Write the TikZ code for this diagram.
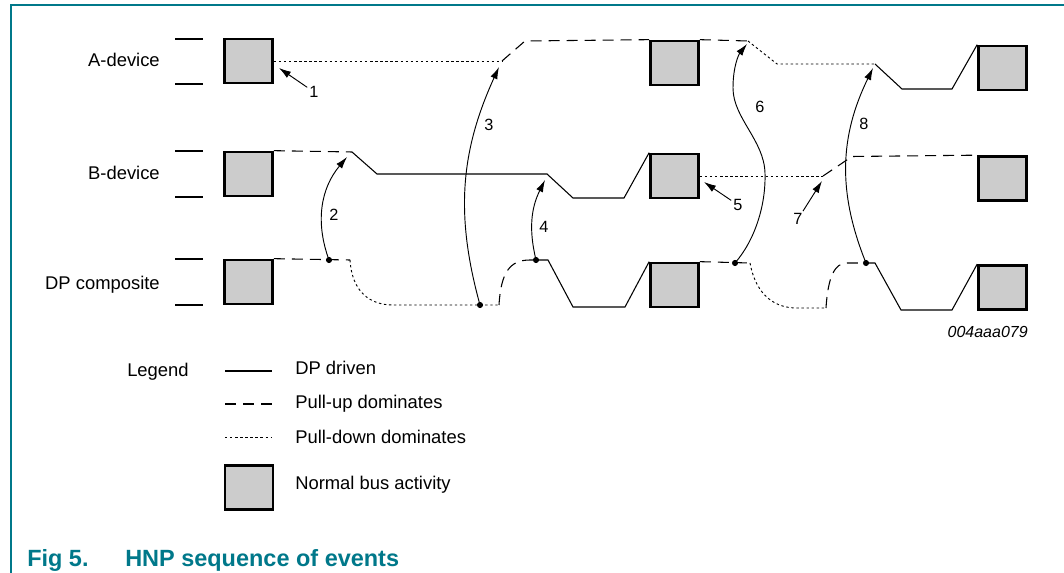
\documentclass[tikz,border=0pt]{standalone}
\usepackage{fontspec}
\setmainfont{Liberation Sans}
\usetikzlibrary{arrows.meta}
\definecolor{capteal}{RGB}{0,120,138}
\tikzset{
  bus/.style={draw,line width=2pt,fill=black!20,minimum width=36pt,minimum height=33pt,inner sep=0pt},
  drv/.style={line width=0.8pt},
  pup/.style={line width=0.8pt,dash pattern=on 8.25pt off 5.25pt},
  pdn/.style={line width=0.7pt,dash pattern=on 1.8pt off 2pt},
  evt/.style={line width=0.7pt,-{Latex[length=9pt,width=5.5pt]}},
  num/.style={font=\fontsize{12.2}{14}\selectfont,inner sep=1.5pt},
  lbl/.style={font=\fontsize{13.8}{16}\selectfont,inner sep=0pt},
}
\begin{document}
\begin{tikzpicture}[x=0.75pt,y=-0.75pt]
\useasboundingbox (0,0) rectangle (1064,573);
\draw[capteal,line width=1.1pt] (11,573) -- (11,5) -- (1064,5);

\node[lbl,anchor=base east] (na) at (160,66.5) {A-device};
\node[lbl,anchor=base east] (nb) at (160,179.5) {B-device};
\node[lbl,anchor=base east] (nd) at (160,289.5) {DP composite};
\draw[drv] (175,39) -- (203,39);
\draw[drv] (175,84) -- (203,84);
\draw[drv] (175,151) -- (203,151);
\draw[drv] (175,197) -- (203,197);
\draw[drv] (175,259) -- (203,259);
\draw[drv] (175,305) -- (203,305);

\node[bus] (a1) at (248.5,61) {};
\node[bus] (b1) at (248.5,174) {};
\node[bus] (d1) at (248.5,282) {};
\node[bus] (a2) at (674.5,63) {};
\node[bus] (b2) at (674.5,176) {};
\node[bus] (d2) at (674.5,285) {};
\node[bus] (a3) at (1002.5,68) {};
\node[bus] (b3) at (1002.5,178.5) {};
\node[bus] (d3) at (1002.5,287.5) {};

% A-device
\draw[pdn] (a1.east) -- (502,61) coordinate (ta);
\draw[pup] (ta) -- (525,41) -- (a2.north west);
\draw[pup] (a2.north east) -- (748,41) coordinate (tb);
\draw[pdn] (tb) -- (777,64) -- (875,64) coordinate (tc);
\draw[drv] (tc) -- (902,89) -- (952,89) -- (a3.north west);

% B-device
\draw[pup] (b1.north east) -- (352,152) coordinate (tr);
\draw[drv] (tr) -- (377,174) -- (547,174) -- (573,198) -- (624,198) -- (b2.north west);
\draw[pdn] (b2.east) -- (823,176) coordinate (tt);
\draw[pup] (tt) -- (852,156.5) -- (b3.north west);

% DP composite
\coordinate (p2) at (329,260);
\coordinate (p3) at (480,305);
\coordinate (p4) at (536,260);
\coordinate (p6) at (735,263);
\coordinate (p8) at (866,263);
\draw[pup] (d1.north east) -- (350,260) coordinate (tu);
\draw[pdn] (tu) .. controls (352,292) and (370,305) .. (393,305) -- (499,305) coordinate (tv);
\draw[pup] (tv) .. controls (501,272) and (510,260) .. (530,260) -- (p4);
\draw[drv] (p4) -- (548,260) -- (573,307) -- (625,307) -- (d2.north west);
\draw[pup] (d2.north east) -- (750,263) coordinate (tw);
\draw[pdn] (tw) .. controls (755,290) and (770,308) .. (797,308) -- (826,308) coordinate (tx);
\draw[pup] (tx) .. controls (828,276) and (835,263) .. (847,263) -- (p8);
\draw[drv] (p8) -- (875,263) -- (901,310) -- (952,310) -- (d3.north west);
\fill (p2) circle (2.3pt);
\fill (p3) circle (2.3pt);
\fill (p4) circle (2.3pt);
\fill (p6) circle (2.3pt);
\fill (p8) circle (2.3pt);

% events
\coordinate (h1) at (279,68);
\coordinate (h2) at (347,157);
\coordinate (h3) at (499,67);
\coordinate (h4) at (545,180);
\coordinate (h5) at (704,182);
\coordinate (h6) at (747,44);
\coordinate (h7) at (822,181);
\coordinate (h8) at (873,68);
\node[num] (l1) at (314,92) {1};
\node[num] (l2) at (334,215) {2};
\node[num] (l3) at (489,125) {3};
\node[num] (l4) at (544,227) {4};
\node[num] (l5) at (738,205) {5};
\node[num] (l6) at (760,107) {6};
\node[num] (l7) at (798,219) {7};
\node[num] (l8) at (864,124) {8};
\draw[evt] (l1) -- (h1);
\draw[evt] (p2) to[bend left=30] (h2);
\draw[evt] (p3) to[bend left=20] (h3);
\draw[evt] (p4) to[bend left=20] (h4);
\draw[evt] (l5) -- (h5);
\draw[evt] (p6) .. controls (755,240) and (766,205) .. (765,173) .. controls (764,140) and (733,118) .. (733,88) .. controls (733,66) and (739,54) .. (h6);
\draw[evt] (l7) -- (h7);
\draw[evt] (p8) to[bend left=24] (h8);

\node[font=\fontsize{12}{14}\selectfont\itshape,anchor=base east,inner sep=0pt] (ref) at (1028,338) {004aaa079};

% legend
\node[lbl,anchor=base west] (lg) at (127,377) {Legend};
\draw[drv] (225,371) -- (272,371);
\draw[pup] (225,404) -- (272,404);
\draw[pdn] (225,437) -- (272,437);
\node[bus] (lb) at (249,487.5) {};
\node[lbl,anchor=base west] (k1) at (295,375) {DP driven};
\node[lbl,anchor=base west] (k2) at (295,409) {Pull-up dominates};
\node[lbl,anchor=base west] (k3) at (295,444) {Pull-down dominates};
\node[lbl,anchor=base west] (k4) at (295,489) {Normal bus activity};

\node[font=\fontsize{17.6}{20}\selectfont\bfseries,text=capteal,anchor=base west,inner sep=0pt] (fig) at (27,566) {Fig 5.};
\node[font=\fontsize{17.6}{20}\selectfont\bfseries,text=capteal,anchor=base west,inner sep=0pt] (cap) at (125,566) {HNP sequence of events};
\end{tikzpicture}
\end{document}
